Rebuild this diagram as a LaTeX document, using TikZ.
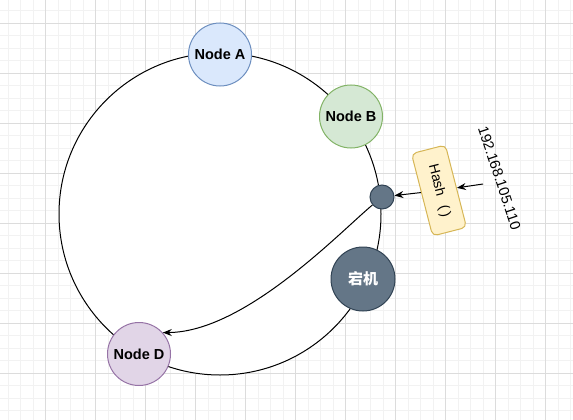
\documentclass[tikz,border=0pt]{standalone}
\usepackage{fontspec}
\setmainfont{Liberation Sans}
\newfontfamily\cjk{Noto Sans CJK SC}
\usetikzlibrary{arrows.meta}
\definecolor{gridminor}{HTML}{F2F2F2}
\definecolor{gridmajor}{HTML}{DCDCDC}
\tikzstyle{MinorLine}=[draw=gridminor, line width=0.8pt]
\tikzstyle{MajorLine}=[draw=gridmajor, line width=0.8pt]
\tikzstyle{RingNode}=[circle, draw=black, fill=white, line width=1pt, minimum size=322pt, inner sep=0pt]
\tikzstyle{ServerNode}=[circle, line width=1pt, minimum size=63pt, inner sep=0pt, font=\bfseries\fontsize{14.5}{16}\selectfont]
\tikzstyle{NodeA}=[ServerNode, draw=HTML6C8EBF, fill=HTMLDAE8FC]
\tikzstyle{NodeB}=[ServerNode, draw=HTML82B366, fill=HTMLD5E8D4]
\tikzstyle{NodeD}=[ServerNode, draw=HTML9673A6, fill=HTMLE1D5E7]
\tikzstyle{DownNode}=[ServerNode, minimum size=64pt, draw=HTML314354, fill=HTML647687, text=white, font=\cjk\bfseries\fontsize{15}{17}\selectfont]
\tikzstyle{PointNode}=[circle, draw=HTML314354, fill=HTML647687, line width=1pt, minimum size=24pt, inner sep=0pt]
\tikzstyle{HashNode}=[rectangle, rounded corners=5pt, draw=HTMLD6B656, fill=HTMLFFF2CC, line width=1pt, minimum width=85pt, minimum height=35pt, rotate=-75.6, font=\fontsize{14}{16}\selectfont]
\tikzstyle{Edge}=[-{Stealth[length=9pt, width=7pt, inset=3pt]}, line width=1pt]
\definecolor{HTML6C8EBF}{HTML}{6C8EBF}
\definecolor{HTMLDAE8FC}{HTML}{DAE8FC}
\definecolor{HTML82B366}{HTML}{82B366}
\definecolor{HTMLD5E8D4}{HTML}{D5E8D4}
\definecolor{HTML9673A6}{HTML}{9673A6}
\definecolor{HTMLE1D5E7}{HTML}{E1D5E7}
\definecolor{HTML314354}{HTML}{314354}
\definecolor{HTML647687}{HTML}{647687}
\definecolor{HTMLD6B656}{HTML}{D6B656}
\definecolor{HTMLFFF2CC}{HTML}{FFF2CC}
\begin{document}
\begin{tikzpicture}[x=1pt, y=-1pt]
\useasboundingbox (0,0) rectangle (573,420);
% background grid
\foreach \k in {0,...,45} \draw[MinorLine] (8+12.5*\k,0) -- (8+12.5*\k,420);
\foreach \k in {0,...,33} \draw[MinorLine] (0,10.8+12.5*\k) -- (573,10.8+12.5*\k);
\foreach \k in {0,...,11} \draw[MajorLine] (45.5+50*\k,0) -- (45.5+50*\k,420);
\foreach \k in {0,...,8} \draw[MajorLine] (0,23.3+50*\k) -- (573,23.3+50*\k);

\node[RingNode](ring) at (220,214) {};

\node[NodeA](nodeA) at (220,54.5) {Node A};
\node[NodeB](nodeB) at (351,116.5) {Node B};
\node[NodeD](nodeD) at (139,354) {Node D};
\node[DownNode](down) at (363,279) {宕机};
\node[PointNode](point) at (382,197) {};
\node[HashNode](hash) at (439,190.5) {Hash\hspace{10pt}(\hspace{2pt})};
\node[rotate=-71.6, font=\fontsize{14.5}{16}\selectfont](ip) at (499.5,178) {192.168.105.110};
\coordinate (ipout) at (483,184);

\draw[Edge](ipout) -- (hash);
\draw[Edge](hash) -- (point);
\draw[Edge](point) .. controls (340,232) and (245,332) .. (nodeD.42);
\end{tikzpicture}
\end{document}
